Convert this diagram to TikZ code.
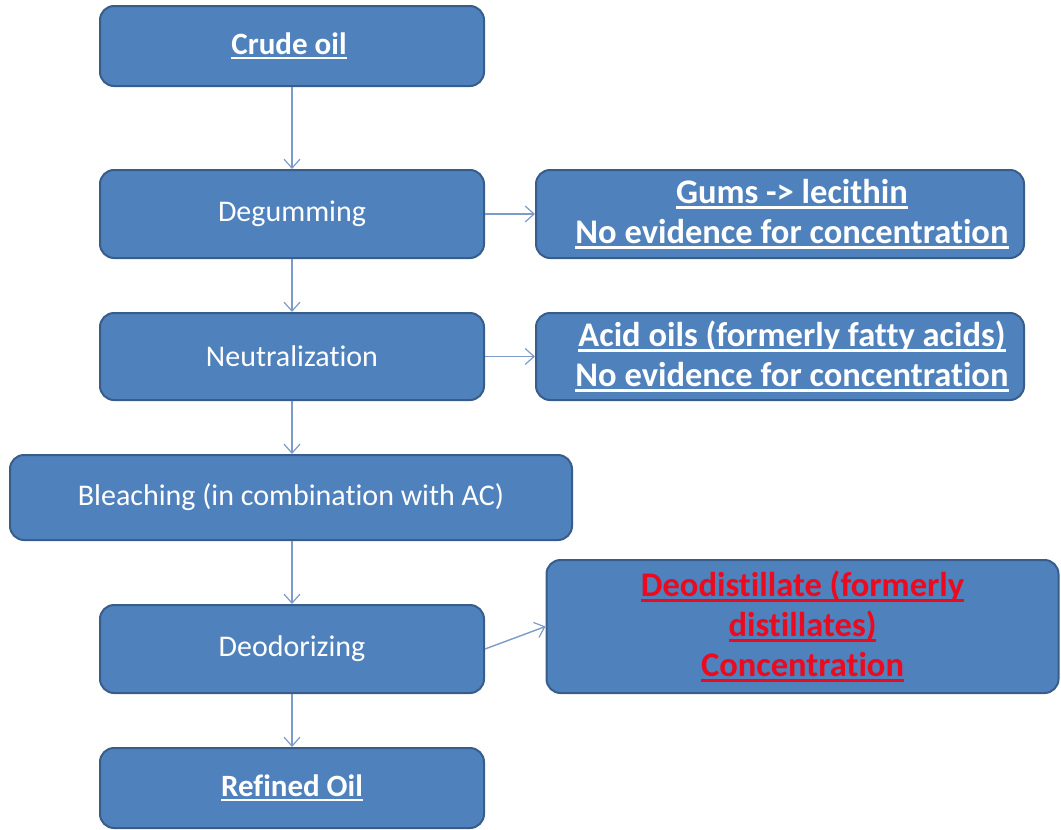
\documentclass[tikz,border=0pt]{standalone}
\usepackage{fontspec}
\setmainfont{Carlito}[Ligatures=NoCommon]
\usetikzlibrary{arrows.meta}
\definecolor{boxfill}{RGB}{79,129,189}
\definecolor{boxline}{RGB}{56,93,138}
\definecolor{arrowcol}{RGB}{125,155,201}
\definecolor{redtext}{RGB}{235,10,30}
\newcommand{\myul}[1]{\setbox0=\hbox{#1}\rlap{\rule[-0.15em]{\wd0}{0.07em}}\box0}
\newcommand{\sh}{\hspace*{24pt}}
\tikzset{
  stepbox/.style={rectangle, rounded corners=14pt, fill=boxfill, draw=boxline, line width=2pt,
    text=white, inner sep=0pt, align=center},
  plainlabel/.style={font=\fontsize{30}{36}\selectfont},
  boldlabel/.style={font=\fontsize{34.5}{40}\selectfont\bfseries},
  endlabel/.style={font=\fontsize{31}{36}\selectfont\bfseries},
  flow/.style={draw=arrowcol, line width=1.4pt, -{Straight Barb[length=9pt,width=16pt,line width=1.2pt]}}
}
\begin{document}
\begin{tikzpicture}[x=1pt,y=-1pt]
\useasboundingbox (0,0) rectangle (1061,830);
\node[stepbox, endlabel, minimum width=384pt, minimum height=80pt] (crude) at (292,46) {\myul{Crude oil}\hspace*{6pt}};
\node[stepbox, plainlabel, minimum width=384pt, minimum height=88pt] (degum) at (292,214) {Degumming};
\node[stepbox, boldlabel, minimum width=488pt, minimum height=88pt] (gums) at (780,214) {\sh\myul{Gums -> lecithin}\\\sh\myul{No evidence for concentration}};
\node[stepbox, plainlabel, minimum width=384pt, minimum height=87pt] (neutr) at (292,356.5) {Neutralization};
\node[stepbox, boldlabel, minimum width=488pt, minimum height=87pt] (acid) at (780,356.5) {\sh\myul{Acid oils (formerly fatty acids)}\\\sh\myul{No evidence for concentration}};
\node[stepbox, plainlabel, minimum width=562pt, minimum height=85pt] (bleach) at (291,497.5) {Bleaching (in combination with AC)};
\node[stepbox, plainlabel, minimum width=384pt, minimum height=88pt] (deodor) at (292,649) {Deodorizing};
\node[stepbox, boldlabel, text=redtext, minimum width=512pt, minimum height=133pt] (distil) at (802.5,626.5) {\myul{Deodistillate (formerly}\\\myul{distillates)}\\\myul{Concentration}};
\node[stepbox, endlabel, minimum width=384pt, minimum height=80pt] (refined) at (292,788) {\myul{Refined Oil}};
\draw[flow] (crude) -- (degum);
\draw[flow] (degum) -- (neutr);
\draw[flow] (neutr) -- (neutr|-bleach.north);
\draw[flow] (bleach.south-|deodor) -- (deodor);
\draw[flow] (deodor) -- (refined);
\draw[flow] (degum) -- (gums);
\draw[flow] (neutr) -- (acid);
\draw[flow] (deodor.east) -- (distil.west);
\end{tikzpicture}
\end{document}
